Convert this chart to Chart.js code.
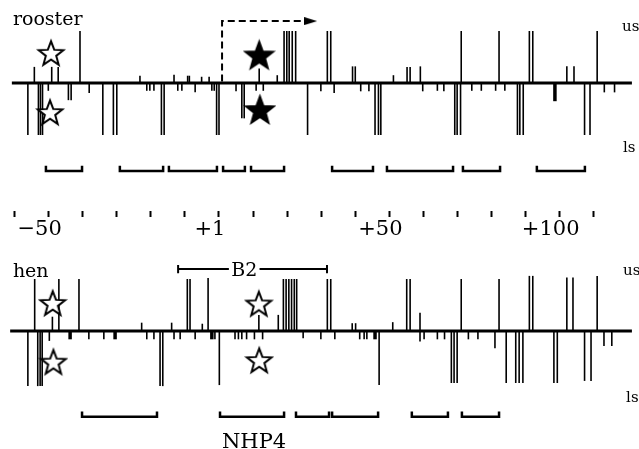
<!DOCTYPE html>
<html>
<head>
<meta charset="utf-8">
<script src="https://cdn.jsdelivr.net/npm/chart.js@4.4.0/dist/chart.umd.min.js"></script>
<style>
  html, body { margin: 0; padding: 0; background: #fff; }
  canvas { display: block; }
</style>
</head>
<body>
<canvas id="footprintChart" width="639" height="449"></canvas>
<script>
// positions in nucleotides (+1 sits on 0), signal > 0 upper strand, < 0 lower strand
const roosterPos = [-54.2, -49.1, -47.2, -40.8, -23.2, -13.2, -9.2, -8.7, -5.1, -2.9, 11.8, 17.1,
    19.1, 19.9, 20.6, 21.5, 22.5, 31.8, 32.8, 39.2, 40.0, 51.2, 55.2, 56.1, 59.1, 71.1, 82.2,
    91.1, 92.1, 102.1, 104.2, 111.0,
    -56.1, -53.0, -52.4, -51.8, -50.1, -44.2, -43.4, -38.1, -34.1, -31.0, -30.0, -21.2, -20.3,
    -19.1, -16.9, -16.1, -12.1, -10.9, -7.0, -2.1, -1.4, -0.7, 0.0, 5.0, 6.7, 7.4, 10.9, 13.0,
    26.0, 29.9, 33.8, 41.6, 44.0, 45.8, 46.8, 47.5, 59.8, 64.1, 66.0, 69.2, 69.9, 70.9, 74.2,
    77.0, 81.2, 83.9, 87.6, 88.3, 89.3, 107.3, 108.9, 113.1, 116.1];
const roosterSig = [3.1, 3.1, 3.1, 10, 1.4, 1.6, 1.4, 1.4, 1.2, 1.2, 2.8, 1.5,
    10, 10, 10, 10, 10, 10, 10, 3.2, 3.2, 1.5, 3.1, 3.1, 3.2, 10, 10,
    10, 10, 3.2, 3.2, 10,
    -10, -10, -10, -10, -1.5, -3.3, -3.3, -1.9, -10, -10, -10, -1.5, -1.5,
    -1.5, -10, -10, -1.5, -1.5, -1.8, -1.5, -1.5, -10, -10, -1.6, -6.8, -6.8, -1.5, -1.5,
    -10, -1.6, -1.9, -1.6, -1.6, -10, -10, -10, -1.6, -1.5, -1.6, -10, -10, -10, -1.5,
    -1.5, -1.5, -1.5, -10, -10, -10, -10, -10, -1.8, -1.8];
const roosterThickPos = [98.6];
const roosterThickSig = [-3.5];

const henPos = [-54.1, -48.9, -47.0, -41.1, -22.7, -13.9, -9.3, -8.5, -4.9, -3.2, 11.7, 17.4,
    18.9, 19.7, 20.5, 21.3, 22.1, 22.8, 31.8, 32.8, 39.1, 40.1, 51.0, 55.1, 56.1, 59.0, 71.1,
    82.2, 91.1, 92.1, 102.1, 103.9, 111.0,
    -56.1, -53.2, -52.5, -51.9, -49.8, -38.2, -33.8, -21.2, -19.1, -17.3, -16.5, -13.2, -11.4,
    -7.0, -1.2, 0.1, 4.7, 5.7, 6.7, 8.1, 10.4, 12.8, 24.7, 29.9, 34.0, 41.3, 42.6, 43.4, 47.0,
    59.0, 60.2, 64.1, 66.2, 68.2, 69.0, 69.9, 73.2, 76.0, 81.0, 84.3, 87.1, 88.1, 89.2, 98.3,
    99.3, 107.3, 109.2, 113.0, 115.3];
const henSig = [10, 2.75, 10, 10, 1.6, 1.6, 10, 10, 1.4, 10.2, 3.1, 3.1,
    10, 10, 10, 10, 10, 10, 10, 10, 1.5, 1.5, 1.7, 10, 10, 3.5, 10,
    10, 10.6, 10.6, 10.3, 10.3, 10.6,
    -10.6, -10.6, -10.6, -10.6, -1.9, -1.6, -1.6, -1.6, -1.6, -10.6, -10.6, -1.6, -1.6,
    -1.6, -1.6, -10.4, -1.6, -1.6, -1.6, -1.6, -1.6, -1.6, -1.4, -1.6, -1.6, -1.6, -1.6, -1.6, -10.4,
    -2.0, -1.6, -1.6, -1.6, -10, -10, -10, -1.6, -1.6, -3.3, -10, -10, -10, -10, -10,
    -10, -9.6, -9.6, -2.9, -2.9];
const henThickPos = [-43.7, -30.5, -2.1, 45.8];
const henThickSig = [-1.6, -1.6, -1.6, -1.6];

// protected regions [from, to]
const roosterBrackets = [[-50.8, -40.2], [-29.1, -16.4], [-14.7, -0.6], [1.2, 7.6], [9.4, 19.1],
    [33.2, 45.2], [49.3, 68.7], [71.6, 82.5], [93.3, 107.4]];
const henBrackets = [[-40.2, -18.2], [0.3, 19.1], [22.6, 32.3], [33.2, 46.7], [56.6, 67.2], [71.3, 82.2]];

// stars: [position, signal]
const roosterOpenStars = [[-49.3, 5.8], [-49.6, -5.6]];
const roosterFilledStars = [[11.8, 5.4], [12.0, -5.1]];
const henOpenStars = [[-48.8, 5.4], [-48.6, -5.9], [11.7, 5.3], [11.8, -5.6]];

const axisTicks = [-60, -50, -40, -30, -20, -10, 0, 10, 20, 30, 40, 50, 60, 70, 80, 90, 100, 110];
const axisLabelAt = [-50, 0, 50, 100];
const axisLabelText = ['\u221250', '+1', '+50', '+100'];

const b2Span = [-12.0, 31.7];
const startArrow = [0.9, 25.5];

const notes = [
    { text: 'rooster', axis: 'yR', x: -60.5, y: 11.15, size: 19, align: 'left' },
    { text: 'us', axis: 'yR', x: 118.3, y: 10.0, size: 15, align: 'left' },
    { text: 'ls', axis: 'yR', x: 118.6, y: -13.3, size: 15, align: 'left' },
    { text: 'hen', axis: 'yH', x: -60.5, y: 10.4, size: 19, align: 'left' },
    { text: 'us', axis: 'yH', x: 118.6, y: 10.8, size: 15, align: 'left' },
    { text: 'ls', axis: 'yH', x: 119.5, y: -13.65, size: 15, align: 'left' },
    { text: 'B2', axis: 'yH', x: 7.4, y: 10.6, size: 19, align: 'center' },
    { text: 'NHP4', axis: 'yH', x: 10.3, y: -22.5, size: 21, align: 'center' }
];

function makeStar(r, fill) {
    const c = document.createElement('canvas');
    c.width = c.height = Math.ceil(r * 2 + 4);
    const g = c.getContext('2d');
    g.translate(c.width / 2, c.height / 2 + r * 0.1);
    g.beginPath();
    for (let i = 0; i < 10; i++) {
        const rad = i % 2 ? r * 0.42 : r;
        const a = -Math.PI / 2 + i * Math.PI / 5;
        g.lineTo(rad * Math.cos(a), rad * Math.sin(a));
    }
    g.closePath();
    g.fillStyle = fill;
    g.fill();
    g.lineWidth = 2;
    g.strokeStyle = '#000';
    g.stroke();
    return c;
}

function makeArrowHead() {
    const c = document.createElement('canvas');
    c.width = 13;
    c.height = 8;
    const g = c.getContext('2d');
    g.beginPath();
    g.moveTo(0, 0);
    g.lineTo(13, 4);
    g.lineTo(0, 8);
    g.closePath();
    g.fillStyle = '#000';
    g.fill();
    return c;
}

function bars(pos, sig) {
    return pos.map((p, i) => ({ x: p, y: [0, sig[i]] }));
}

function bracketPoints(list, level) {
    const pts = [];
    list.forEach(([a, b]) => {
        pts.push({ x: a, y: level + 1 }, { x: a, y: level }, { x: b, y: level }, { x: b, y: level + 1 }, { x: b, y: null });
    });
    return pts;
}

function starPoints(list) {
    return list.map(([p, s]) => ({ x: p, y: s }));
}

const notesPlugin = {
    id: 'notes',
    afterDatasetsDraw(chart) {
        const { ctx, scales } = chart;
        ctx.save();
        ctx.fillStyle = '#000';
        ctx.textBaseline = 'alphabetic';
        notes.forEach(n => {
            ctx.font = n.size + 'px "DejaVu Serif"';
            ctx.textAlign = n.align;
            ctx.fillText(n.text, scales.x.getPixelForValue(n.x), scales[n.axis].getPixelForValue(n.y));
        });
        ctx.restore();
    }
};

document.addEventListener('DOMContentLoaded', function() {
    const barStyle = { type: 'bar', backgroundColor: '#000', borderWidth: 0, barThickness: 1.6, grouped: false, inflateAmount: 0 };
    const lineStyle = { type: 'line', borderColor: '#000', borderWidth: 2.5, pointRadius: 0, fill: false, tension: 0 };
    const openStar = makeStar(13, '#fff');
    const filledStar = makeStar(14.5, '#000');

    const ctx = document.getElementById('footprintChart').getContext('2d');
    new Chart(ctx, {
        type: 'bar',
        data: {
            datasets: [
                { ...barStyle, yAxisID: 'yR', data: bars(roosterPos, roosterSig) },
                { ...barStyle, yAxisID: 'yR', barThickness: 3.5, data: bars(roosterThickPos, roosterThickSig) },
                { ...barStyle, yAxisID: 'yH', data: bars(henPos, henSig) },
                { ...barStyle, yAxisID: 'yH', barThickness: 3.5, data: bars(henThickPos, henThickSig) },
                { ...lineStyle, yAxisID: 'yR', borderWidth: 3, data: [{ x: -60.8, y: 0 }, { x: 121.2, y: 0 }] },
                { ...lineStyle, yAxisID: 'yH', borderWidth: 3, data: [{ x: -61.3, y: 0 }, { x: 121.2, y: 0 }] },
                { ...lineStyle, yAxisID: 'yR', data: bracketPoints(roosterBrackets, -16.9) },
                { ...lineStyle, yAxisID: 'yH', data: bracketPoints(henBrackets, -16.5) },
                {
                    ...lineStyle, yAxisID: 'yH', borderWidth: 2,
                    data: [
                        { x: b2Span[0], y: 12.7 }, { x: b2Span[0], y: 11.1 }, { x: b2Span[0], y: null },
                        { x: b2Span[0], y: 11.9 }, { x: 2.9, y: 11.9 }, { x: 2.9, y: null },
                        { x: 11.9, y: 11.9 }, { x: b2Span[1], y: 11.9 }, { x: b2Span[1], y: null },
                        { x: b2Span[1], y: 12.7 }, { x: b2Span[1], y: 11.1 }
                    ]
                },
                {
                    ...lineStyle, yAxisID: 'yR', borderWidth: 2, borderDash: [7, 4],
                    data: [{ x: startArrow[0], y: 0.3 }, { x: startArrow[0], y: 11.9 }, { x: startArrow[1], y: 11.9 }]
                },
                {
                    type: 'scatter', yAxisID: 'yR', order: -1, pointStyle: makeArrowHead(), pointRadius: 5,
                    data: [{ x: startArrow[1] + 1.4, y: 11.9 }]
                },
                { type: 'scatter', yAxisID: 'yR', order: -1, pointStyle: openStar, pointRadius: 5, data: starPoints(roosterOpenStars) },
                { type: 'scatter', yAxisID: 'yR', order: -1, pointStyle: filledStar, pointRadius: 5, data: starPoints(roosterFilledStars) },
                { type: 'scatter', yAxisID: 'yH', order: -1, pointStyle: openStar, pointRadius: 5, data: starPoints(henOpenStars) }
            ]
        },
        options: {
            responsive: false,
            animation: false,
            events: [],
            layout: { padding: 0, autoPadding: false },
            plugins: { legend: { display: false }, tooltip: { enabled: false } },
            scales: {
                x: {
                    type: 'linear',
                    min: -64.28,
                    max: 123.28,
                    offset: false,
                    position: { yR: -24.6 },
                    border: { display: false },
                    grid: { offset: false, drawOnChartArea: false, drawTicks: true, tickLength: 6, tickWidth: 2, tickColor: '#000' },
                    afterBuildTicks: scale => { scale.ticks = axisTicks.map(v => ({ value: v })); },
                    afterFit: scale => { scale.paddingLeft = 0; scale.paddingRight = 0; },
                    ticks: {
                        autoSkip: false,
                        maxRotation: 0,
                        minRotation: 0,
                        padding: 0,
                        labelOffset: -9,
                        color: '#000',
                        font: { family: 'DejaVu Serif', size: 21 },
                        callback: v => {
                            const i = axisLabelAt.indexOf(v);
                            return i >= 0 ? axisLabelText[i] : '';
                        }
                    }
                },
                yR: { type: 'linear', display: false, min: -70.385, max: 15.962 },
                yH: { type: 'linear', display: false, min: -22.692, max: 63.654 }
            }
        },
        plugins: [notesPlugin]
    });
});
</script>
</body>
</html>
